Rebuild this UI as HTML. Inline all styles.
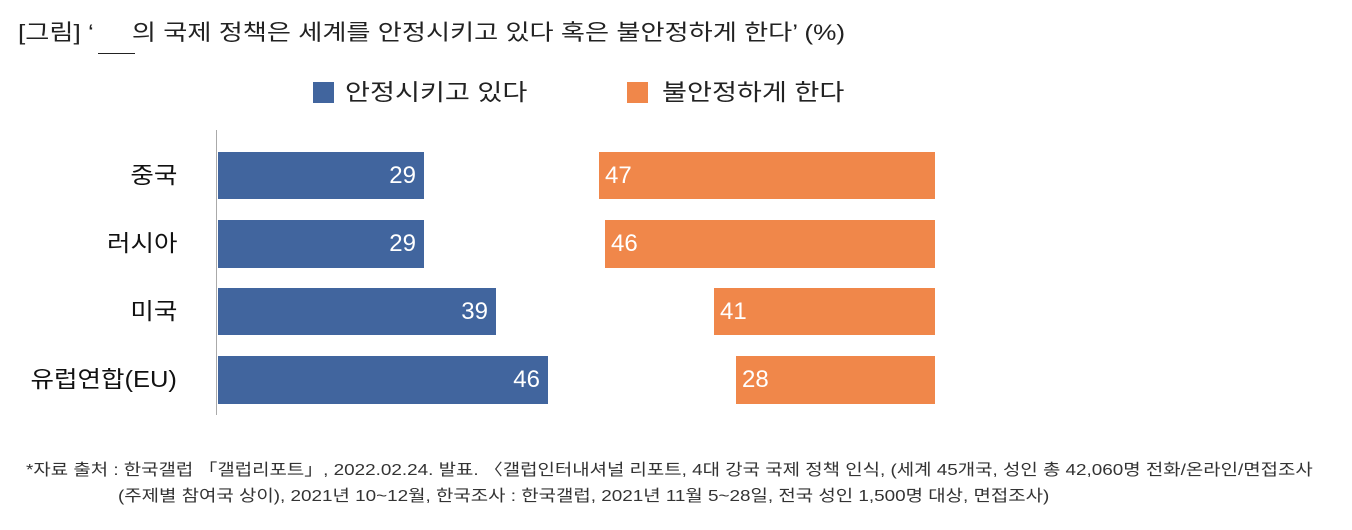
<!DOCTYPE html>
<html><head><meta charset="utf-8"><style>
body{margin:0;width:1352px;height:530px;background:#fff;position:relative;overflow:hidden;font-family:"Liberation Sans","Noto Sans CJK KR",sans-serif;color:#222}
.a{position:absolute;white-space:nowrap;transform-origin:left center}
.b{position:absolute;background:#41659e}
.o{position:absolute;background:#f0874a}
.v{position:absolute;color:#fff;font-size:24px;line-height:47px}
.c{position:absolute;right:1175px;font-size:23px;line-height:47px;color:#111;transform:scaleX(1.11);transform-origin:right center;white-space:nowrap}
.f{font-size:16px;color:#333;transform:scaleX(1.18)}
</style></head><body>
<div class="a" style="left:18px;top:18px;font-size:22px;line-height:30px;transform:scaleX(1.19)">[그림] ‘<span style="display:inline-block;width:32px"></span>의 국제 정책은 세계를 안정시키고 있다 혹은 불안정하게 한다’ (%)</div>
<div class="a" style="left:98px;top:53px;width:37px;height:1px;background:#222"></div>
<div class="a" style="left:313px;top:82px;width:21px;height:21px;background:#41659e"></div>
<div class="a" style="left:345px;top:77px;font-size:23px;line-height:30px;transform:scaleX(1.18)">안정시키고 있다</div>
<div class="a" style="left:627px;top:82px;width:21px;height:21px;background:#f0874a"></div>
<div class="a" style="left:662px;top:77px;font-size:23px;line-height:30px;transform:scaleX(1.18)">불안정하게 한다</div>
<div class="a" style="left:216px;top:130px;width:1px;height:285px;background:#aaa"></div>

<div class="c" style="top:152px">중국</div>
<div class="c" style="top:220px">러시아</div>
<div class="c" style="top:288px">미국</div>
<div class="c" style="top:356px">유럽연합(EU)</div>

<div class="b" style="left:218px;top:152px;width:206px;height:47px"></div>
<div class="v" style="right:936px;top:152px">29</div>
<div class="b" style="left:218px;top:220px;width:206px;height:48px"></div>
<div class="v" style="right:936px;top:220px">29</div>
<div class="b" style="left:218px;top:288px;width:278px;height:47px"></div>
<div class="v" style="right:864px;top:288px">39</div>
<div class="b" style="left:218px;top:356px;width:330px;height:48px"></div>
<div class="v" style="right:812px;top:356px">46</div>

<div class="o" style="left:599px;top:152px;width:336px;height:47px"></div>
<div class="v" style="left:605px;top:152px">47</div>
<div class="o" style="left:605px;top:220px;width:330px;height:48px"></div>
<div class="v" style="left:611px;top:220px">46</div>
<div class="o" style="left:714px;top:288px;width:221px;height:47px"></div>
<div class="v" style="left:720px;top:288px">41</div>
<div class="o" style="left:736px;top:356px;width:199px;height:48px"></div>
<div class="v" style="left:742px;top:356px">28</div>

<div class="a f" style="left:26px;top:456px">*자료 출처 : 한국갤럽 「갤럽리포트」, 2022.02.24. 발표. 〈갤럽인터내셔널 리포트, 4대 강국 국제 정책 인식, (세계 45개국, 성인 총 42,060명 전화/온라인/면접조사</div>
<div class="a f" style="left:118px;top:482px">(주제별 참여국 상이), 2021년 10~12월, 한국조사 : 한국갤럽, 2021년 11월 5~28일, 전국 성인 1,500명 대상, 면접조사)</div>
</body></html>
